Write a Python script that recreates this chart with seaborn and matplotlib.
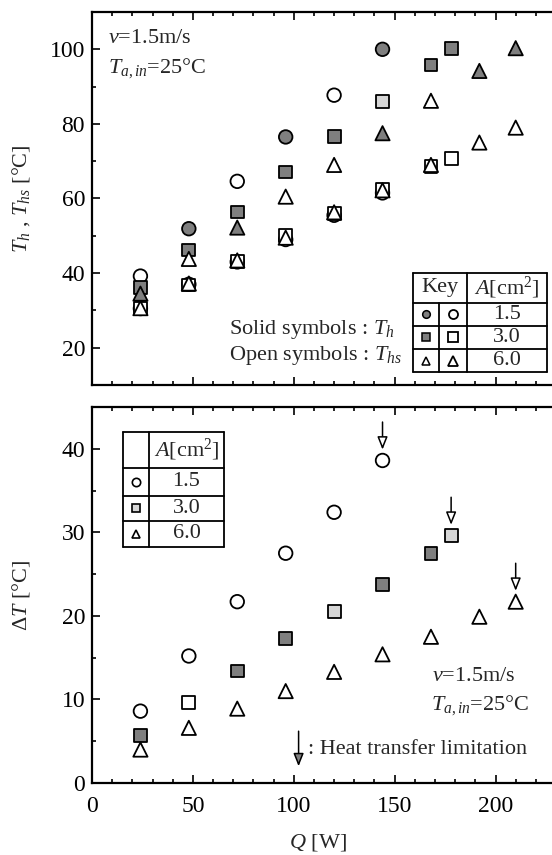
import numpy as np
import pandas as pd
import seaborn as sns
import matplotlib
matplotlib.use("Agg")
import matplotlib.pyplot as plt
from matplotlib.ticker import MultipleLocator

# ── Data ─────────────────────────────────────────────────────────────
AREAS = ["1.5", "3.0", "6.0"]

Q_15 = [24, 48, 72, 96, 120, 144]
Q_30 = [24, 48, 72, 96, 120, 144, 168, 178]
Q_60 = [24, 48, 72, 96, 120, 144, 168, 192, 210]

# heater temperature T_h (solid symbols)
TH_15 = [39.2, 51.9, 64.6, 76.5, 87.7, 100.0]
TH_30 = [36.2, 46.2, 56.4, 67.1, 76.6, 86.0, 95.8, 100.2]
TH_60 = [34.5, 43.8, 52.2, 60.5, 69.0, 77.5, 86.2, 94.2, 100.3]

# heat sink temperature T_hs (open symbols)
THS_15 = [30.5, 37.0, 43.0, 49.0, 55.5, 61.5]
THS_30 = [30.5, 36.8, 43.2, 50.0, 56.0, 62.5, 68.5, 70.7]
THS_60 = [30.6, 37.2, 43.4, 49.5, 56.3, 62.2, 69.0, 75.0, 79.0]

# temperature difference
DT_15 = [8.6, 15.2, 21.7, 27.5, 32.4, 38.6]
DT_30 = [5.7, 9.6, 13.4, 17.3, 20.5, 23.8, 27.5, 29.6]
DT_60 = [4.0, 6.6, 8.9, 11.0, 13.3, 15.4, 17.5, 19.9, 21.7]

# last point of each series = heat transfer limitation (arrow)
LIMIT_Q = [144, 178, 210]
LIMIT_DT = [38.6, 29.6, 21.7]

# ── Print look of the scanned symbols (fill per point) ──────────────
TH_FILL = {
    "1.5": ["open", "solid", "open", "solid", "open", "solid"],
    "3.0": ["solid", "solid", "solid", "solid", "solid", "light", "solid", "solid"],
    "6.0": ["solid", "open", "solid", "open", "open", "solid", "open", "solid", "solid"],
}
DT_FILL = {
    "1.5": ["open"] * 6,
    "3.0": ["solid", "open", "solid", "solid", "light", "solid", "solid", "light"],
    "6.0": ["open"] * 9,
}
FACES = {"solid": "#7f7f7f", "light": "#d6d6d6", "open": "white"}
MARKERS = {"1.5": "o", "3.0": "s", "6.0": "^"}
SIZES = {"1.5": 95, "3.0": 85, "6.0": 105}

Q = {"1.5": Q_15, "3.0": Q_30, "6.0": Q_60}
TH = {"1.5": TH_15, "3.0": TH_30, "6.0": TH_60}
THS = {"1.5": THS_15, "3.0": THS_30, "6.0": THS_60}
DT = {"1.5": DT_15, "3.0": DT_30, "6.0": DT_60}

sns.set_theme(style="ticks")
plt.rcParams.update({
    "font.family": ["Liberation Serif", "DejaVu Serif"],
    "mathtext.fontset": "custom",
    "mathtext.rm": "Liberation Serif",
    "mathtext.it": "Liberation Serif:italic",
    "mathtext.bf": "Liberation Serif:bold:italic",
    "axes.linewidth": 1.6,
    "axes.edgecolor": "black",
    "xtick.color": "black",
    "ytick.color": "black",
})
FS = 16
TFS = 17
ARROW = "-|>,head_length=0.55,head_width=0.22"

fig = plt.figure(figsize=(5.52, 8.55), dpi=100)
L, W = 92 / 552, 460 / 552
ax1 = fig.add_axes([L, 1 - 385 / 855, W, 373 / 855])
ax2 = fig.add_axes([L, 1 - 783 / 855, W, 376 / 855])


def scatter(ax, x, y, fills, marker, s):
    df = pd.DataFrame({"Q": x, "T": y, "fill": fills})
    sns.scatterplot(data=df, x="Q", y="T", hue="fill", palette=FACES,
                    marker=marker, s=s, edgecolor="black", linewidth=1.3,
                    legend=False, ax=ax, zorder=3, clip_on=False)


# ── Top panel: T_h and T_hs ─────────────────────────────────────────
for a in AREAS:
    scatter(ax1, Q[a], THS[a], ["open"] * len(Q[a]), MARKERS[a], SIZES[a])
for a in AREAS:
    scatter(ax1, Q[a], TH[a], TH_FILL[a], MARKERS[a], SIZES[a])

ax1.set_xlim(0, 228)
ax1.set_ylim(10, 110)
ax1.yaxis.set_major_locator(MultipleLocator(20))
ax1.yaxis.set_minor_locator(MultipleLocator(10))
ax1.set_xlabel("")
ax1.set_ylabel(r"$T_h$ , $T_{hs}$ [°C]", fontsize=FS)
ax1.tick_params(axis="x", labelbottom=False)

ax1.text(8, 102.8, r"$v$=1.5m/s", fontsize=FS, va="center")
ax1.text(8, 95.0, r"$T_{a,in}$=25°C", fontsize=FS, va="center")
ax1.text(68, 25.0, r"Solid symbols : $T_h$", fontsize=FS, va="center")
ax1.text(68, 17.9, r"Open symbols : $T_{hs}$", fontsize=FS, va="center")

# key table
xe = [159, 172, 186, 225.5]
ye = [40, 32.1, 25.9, 19.6, 13.4]
kw = dict(color="black", lw=1.3, clip_on=False, zorder=4)
for x in (xe[0], xe[2], xe[3]):
    ax1.plot([x, x], [ye[0], ye[-1]], **kw)
ax1.plot([xe[1], xe[1]], [ye[1], ye[-1]], **kw)
for y in ye:
    ax1.plot([xe[0], xe[3]], [y, y], **kw)
ax1.text((xe[0] + xe[2]) / 2, (ye[0] + ye[1]) / 2, "Key", fontsize=FS,
         ha="center", va="center")
ax1.text((xe[2] + xe[3]) / 2, (ye[0] + ye[1]) / 2, r"$A$[cm$^2$]",
         fontsize=FS, ha="center", va="center")
key_solid = {"1.5": "solid", "3.0": "solid", "6.0": "open"}
for i, a in enumerate(AREAS):
    yc = (ye[i + 1] + ye[i + 2]) / 2
    ax1.plot((xe[0] + xe[1]) / 2, yc, MARKERS[a], ms=5.5, mec="black",
             mew=1.1, mfc=FACES[key_solid[a]], clip_on=False, zorder=5)
    ax1.plot((xe[1] + xe[2]) / 2, yc, MARKERS[a], ms=6.5, mec="black",
             mew=1.3, mfc="white", clip_on=False, zorder=5)
    ax1.text((xe[2] + xe[3]) / 2, yc, a, fontsize=FS, ha="center", va="center")

# ── Bottom panel: ΔT ────────────────────────────────────────────────
for a in AREAS:
    scatter(ax2, Q[a], DT[a], DT_FILL[a], MARKERS[a], SIZES[a])

for q, d in zip(LIMIT_Q, LIMIT_DT):
    ax2.annotate("", xy=(q, d + 1.3), xytext=(q, d + 4.6),
                 arrowprops=dict(arrowstyle=ARROW, fc="white", ec="black",
                                 lw=1.1, mutation_scale=14,
                                 shrinkA=0, shrinkB=0))

ax2.set_xlim(0, 228)
ax2.set_ylim(0, 45)
ax2.xaxis.set_major_locator(MultipleLocator(50))
ax2.yaxis.set_major_locator(MultipleLocator(10))
ax2.yaxis.set_minor_locator(MultipleLocator(5))
ax2.set_xlabel(r"$Q$ [W]", fontsize=FS)
ax2.set_ylabel(r"$\Delta T$ [°C]", fontsize=FS)

ax2.text(168.6, 12.7, r"$v$=1.5m/s", fontsize=FS, va="center")
ax2.text(167.8, 9.3, r"$T_{a,in}$=25°C", fontsize=FS, va="center")
ax2.annotate("", xy=(102.4, 2.0), xytext=(102.4, 6.2),
             arrowprops=dict(arrowstyle=ARROW, fc="#7f7f7f", ec="black",
                             lw=1.1, mutation_scale=14,
                             shrinkA=0, shrinkB=0))
ax2.text(107, 4.0, ": Heat transfer limitation", fontsize=FS, va="center")

# A table
xb = [15.2, 28.4, 65.3]
yb = [42.0, 37.7, 34.4, 31.4, 28.3]
for x in xb:
    ax2.plot([x, x], [yb[0], yb[-1]], **kw)
for y in yb:
    ax2.plot([xb[0], xb[2]], [y, y], **kw)
ax2.text((xb[1] + xb[2]) / 2, (yb[0] + yb[1]) / 2, r"$A$[cm$^2$]",
         fontsize=FS, ha="center", va="center")
tab_fill = {"1.5": "open", "3.0": "light", "6.0": "open"}
for i, a in enumerate(AREAS):
    yc = (yb[i + 1] + yb[i + 2]) / 2
    ax2.plot((xb[0] + xb[1]) / 2, yc, MARKERS[a], ms=6, mec="black",
             mew=1.2, mfc=FACES[tab_fill[a]], clip_on=False, zorder=5)
    ax2.text((xb[1] + xb[2]) / 2, yc, a, fontsize=FS, ha="center", va="center")

# ── Shared axis styling ─────────────────────────────────────────────
for ax in (ax1, ax2):
    ax.spines["right"].set_visible(False)
    ax.xaxis.set_major_locator(MultipleLocator(50))
    ax.xaxis.set_minor_locator(MultipleLocator(10))
    ax.tick_params(which="both", direction="in", top=True, right=False,
                   width=1.2, labelsize=TFS)
    ax.tick_params(which="major", length=6)
    ax.tick_params(which="minor", length=3)
    ax.tick_params(axis="y", pad=5)
    ax.tick_params(axis="x", pad=9)
    ax.yaxis.set_label_coords(-0.13, 0.5)

ax2.xaxis.set_label_coords(0.49, -0.13)

fig.savefig("out.png", dpi=100)
